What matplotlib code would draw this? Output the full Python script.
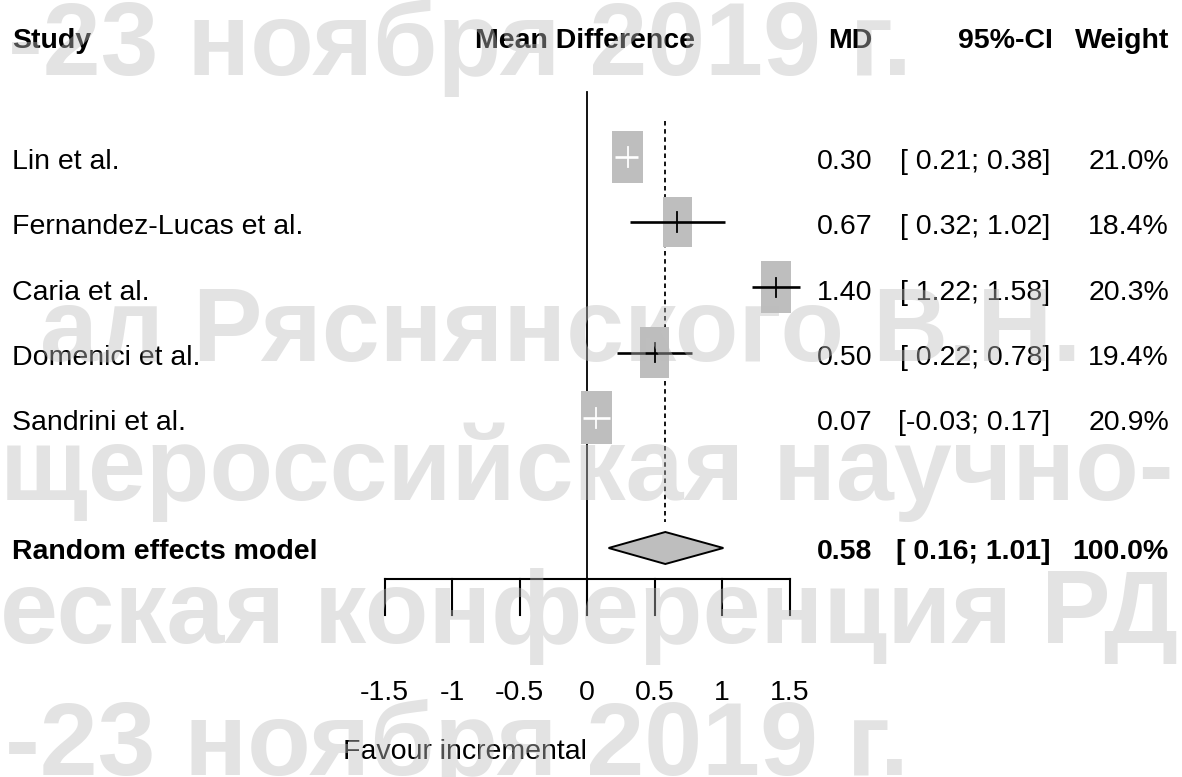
import matplotlib
matplotlib.use("Agg")
import matplotlib.pyplot as plt
from matplotlib.patches import Rectangle, Polygon
import numpy as np

# ---------------- data ----------------
studies = ["Lin et al.", "Fernandez-Lucas et al.", "Caria et al.",
           "Domenici et al.", "Sandrini et al."]
md = [0.30, 0.67, 1.40, 0.50, 0.07]
ci_low = [0.21, 0.32, 1.22, 0.22, -0.03]
ci_high = [0.38, 1.02, 1.58, 0.78, 0.17]
weights = [21.0, 18.4, 20.3, 19.4, 20.9]

pooled_label = "Random effects model"
pooled_md = 0.58
pooled_low = 0.16
pooled_high = 1.01
pooled_weight = 100.0

xticks = [-1.5, -1, -0.5, 0, 0.5, 1, 1.5]
xtick_labels = ["-1.5", "-1", "-0.5", "0", "0.5", "1", "1.5"]
headers = ["Study", "Mean Difference", "MD", "95%-CI", "Weight"]
xlabel_left = "Favour incremental"
watermark_lines = ["-23 ноября 2019 г.", "ал Ряснянского В.Н.",
                   "щероссийская научно-", "еская конференция РДО",
                   "-23 ноября 2019 г."]

# ---------------- layout helpers ----------------
W, H = 1182, 777
X0, PXU = 587.0, 135.0      # pixel of x=0, pixels per unit
Y0, ROW = 157.0, 65.2       # pixel of first row, pixels per row


def dx(p):
    return (p - X0) / PXU


def dy(p):
    return (p - Y0) / ROW


FONT = ["Liberation Sans", "DejaVu Sans"]
FS = 20.5
CAPH = 0.716 * FS * 100 / 72 / 2   # half cap height in px

fig = plt.figure(figsize=(W / 100, H / 100), dpi=100)
ax = fig.add_axes([0, 0, 1, 1])
ax.set_xlim(dx(0), dx(W))
ax.set_ylim(dy(H), dy(0))
ax.axis("off")

sq_gray = "#bebebe"


def txt(xp, yc, s, ha, bold=False, xdata=None):
    x = dx(xp) if xdata is None else xdata
    ax.text(x, dy(yc + CAPH), s, ha=ha, va="baseline", fontsize=FS,
            fontweight="bold" if bold else "normal", family=FONT, zorder=5)


# headers
hc = 38
txt(12, hc, headers[0], "left", True)
txt(585, hc, headers[1], "center", True)
txt(872, hc, headers[2], "right", True)
txt(1053, hc, headers[3], "right", True)
txt(1169, hc, headers[4], "right", True)

# reference lines
ax.plot([0, 0], [-1.0, dy(579)], color="black", lw=1.3, zorder=2)
ax.plot([pooled_md, pooled_md], [-0.55, 5.6], color="black", lw=1.3,
        linestyle=(0, (2.5, 2)), zorder=2)

# studies
wmax = max(weights)
for i, (name, m, lo, hi, w) in enumerate(zip(studies, md, ci_low, ci_high, weights)):
    s = np.sqrt(w / wmax)
    bw, bh = 0.23 * s, 0.81 * s
    ax.add_patch(Rectangle((m - bw / 2, i - bh / 2), bw, bh, facecolor=sq_gray,
                           edgecolor="none", zorder=3))
    inside = (lo >= m - bw / 2) and (hi <= m + bw / 2)
    col = "white" if inside else "black"
    ax.plot([lo, hi], [i, i], color=col, lw=1.9, zorder=4, solid_capstyle="butt")
    ax.plot([m, m], [i - 0.15, i + 0.15], color=col, lw=1.3, zorder=4)
    yc = Y0 + i * ROW + 2
    txt(12, yc, name, "left")
    txt(872, yc, f"{m:.2f}", "right")
    txt(1050, yc, f"[{lo:5.2f}; {hi:.2f}]", "right")
    txt(1169, yc, f"{w:.1f}%", "right")

# pooled
py = dy(548)
hh = 16 / ROW
ax.add_patch(Polygon([[pooled_low, py], [pooled_md, py - hh], [pooled_high, py],
                      [pooled_md, py + hh]], closed=True, facecolor=sq_gray,
                     edgecolor="black", lw=1.4, zorder=3))
pc = 549
txt(12, pc, pooled_label, "left", True)
txt(872, pc, f"{pooled_md:.2f}", "right", True)
txt(1050, pc, f"[{pooled_low:5.2f}; {pooled_high:.2f}]", "right", True)
txt(1169, pc, f"{pooled_weight:.1f}%", "right", True)

# x axis
ya = dy(579)
yt = dy(615)
ax.plot([xticks[0], xticks[-1]], [ya, ya], color="black", lw=1.5, zorder=2,
        solid_capstyle="projecting")
for t, lab in zip(xticks, xtick_labels):
    ax.plot([t, t], [ya, yt], color="black", lw=1.5, zorder=2)
    txt(None, 690, lab, "center", xdata=t)
txt(None, 749, xlabel_left, "right", xdata=0)

# watermark overlay
wm_pos = [(8, 75), (40, 360), (0, 500), (0, 643), (5, 775)]
for (x, y), line in zip(wm_pos, watermark_lines):
    ax.text(dx(x), dy(y), line, ha="left", va="baseline", fontsize=75,
            fontweight="bold", family=["Liberation Sans", "DejaVu Sans"],
            color="#bdbdbd", alpha=0.42, zorder=10)

fig.savefig("out.png", dpi=100)
